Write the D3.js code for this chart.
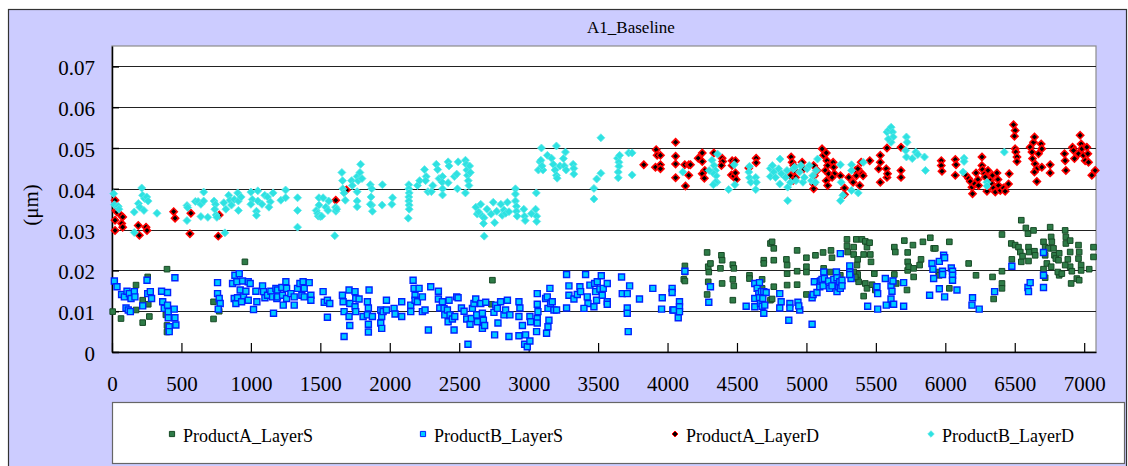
<!DOCTYPE html>
<html>
<head>
<meta charset="utf-8">
<script src="https://cdn.jsdelivr.net/npm/d3@7"></script>
<style>
  body { margin: 0; background: #fff; }
</style>
</head>
<body>
<div id="chart"></div>
<script>
// ---- data: [index, value in µm] ----
var seriesNames = ["ProductA_LayerS", "ProductB_LayerS", "ProductA_LayerD", "ProductB_LayerD"];
var xTicks = [0, 500, 1000, 1500, 2000, 2500, 3000, 3500, 4000, 4500, 5000, 5500, 6000, 6500, 7000];
var yTicks = [0, 0.01, 0.02, 0.03, 0.04, 0.05, 0.06, 0.07];

var productA_LayerS = [[5,0.0099],[65,0.0082],[173,0.0164],[173,0.0103],[221,0.0127],[221,0.0072],[257,0.0184],[261,0.0117],[269,0.0087],[396,0.0203],[388,0.0091],[396,0.0065],[396,0.0049],[731,0.0123],[731,0.0081],[772,0.0100],[957,0.0221],[2739,0.0176],[2732,0.0117],
[4125,0.0211],[4125,0.0196],[4117,0.0178],[4125,0.0174],[4285,0.0244],[4293,0.0209],[4297,0.0196],[4309,0.0217],[4293,0.0172],[4285,0.0141],[4388,0.0237],[4393,0.0225],[4381,0.0205],[4393,0.0168],[4470,0.0214],[4477,0.0205],[4470,0.0178],[4477,0.0162],[4470,0.0127],[4590,0.0188],[4590,0.0180],[4693,0.0225],[4693,0.0217],[4681,0.0178],[4681,0.0156],[4741,0.0266],[4741,0.0127],
[4753,0.0270],[4765,0.0254],[4765,0.0225],[4765,0.0160],[4753,0.0130],[4856,0.0227],[4861,0.0213],[4861,0.0192],[4861,0.0164],[4933,0.0249],[4933,0.0198],[4933,0.0165],[5000,0.0231],[5000,0.0209],[5000,0.0196],[5000,0.0141],[5065,0.0237],[5120,0.0244],[5177,0.0249],[5184,0.0231],[5124,0.0205],[5172,0.0196],[5184,0.0172],[5220,0.0168],[5244,0.0188],[5292,0.0276],[5292,0.0260],[5297,0.0245],[5340,0.0257],[5340,0.0239],[5359,0.0276],[5369,0.0227],[5364,0.0213],[5369,0.0180],[5376,0.0172],[5400,0.0276],[5412,0.0239],[5424,0.0271],[5436,0.0257],[5455,0.0268],[5460,0.0239],[5465,0.0221],[5424,0.0168],[5436,0.0156],[5412,0.0137],[5369,0.0190],[5472,0.0165],[5489,0.0192],[5496,0.0152],[5340,0.0196],[5352,0.0184],[5633,0.0257],[5640,0.0245],[5633,0.0190],[5647,0.0168],[5705,0.0273],[5729,0.0244],[5729,0.0221],[5729,0.0200],[5736,0.0209],[5724,0.0152],[5767,0.0262],[5772,0.0184],[5772,0.0205],[5825,0.0227],[5839,0.0270],[5892,0.0280],[5916,0.0254],[5815,0.0213],
[5928,0.0254],[5952,0.0196],[5957,0.0188],[6029,0.0270],[6029,0.0156],[6168,0.0217],[6221,0.0188],[6340,0.0184],[6348,0.0130],[6408,0.0288],[6408,0.0198],[6408,0.0168],[6408,0.0156],[6475,0.0266],[6479,0.0227],[6503,0.0262],[6527,0.0257],[6540,0.0245],[6547,0.0221],[6556,0.0235],[6547,0.0323],[6580,0.0304],[6595,0.0290],[6599,0.0257],[6604,0.0245],[6599,0.0223],[6642,0.0247],[6635,0.0298],[6647,0.0237],[6707,0.0270],[6719,0.0257],[6719,0.0237],[6707,0.0203],[6719,0.0182],[6731,0.0217],[6743,0.0254],[6755,0.0306],[6762,0.0282],[6767,0.0270],[6779,0.0254],[6786,0.0237],[6796,0.0229],[6820,0.0242],[6820,0.0188],[6815,0.0225],[6762,0.0209],[6810,0.0196],[6863,0.0298],[6868,0.0282],[6868,0.0266],[6899,0.0273],[6899,0.0245],[6882,0.0227],[6899,0.0209],[6911,0.0198],[6863,0.0213],[6839,0.0192],[6947,0.0180],[6964,0.0176],[6959,0.0262],[6964,0.0245],[6959,0.0229],[6978,0.0213],[6978,0.0200],[6906,0.0168],[7036,0.0203],[7067,0.0257],[7067,0.0233]];

var productB_LayerS = [[17,0.0174],[36,0.0160],[69,0.0141],[89,0.0135],[108,0.0149],[125,0.0143],[137,0.0131],[161,0.0148],[165,0.0135],[101,0.0108],[117,0.0103],[132,0.0099],[221,0.0113],[252,0.0176],[257,0.0143],[276,0.0148],[285,0.0131],[357,0.0149],[400,0.0146],[365,0.0123],[376,0.0107],[400,0.0115],[405,0.0099],[412,0.0062],[412,0.0050],[405,0.0084],[448,0.0105],[453,0.0084],[460,0.0066],[453,0.0182],[760,0.0170],[760,0.0143],[772,0.0131],[779,0.0119],[765,0.0105],[868,0.0168],[885,0.0188],[916,0.0192],[899,0.0172],[923,0.0152],[940,0.0174],[947,0.0135],[964,0.0149],[981,0.0172],[995,0.0168],[981,0.0127],[880,0.0131],[892,0.0119],[904,0.0133],[933,0.0123],[1019,0.0104],[1036,0.0149],[1043,0.0123],[1084,0.0162],[1091,0.0148],[1101,0.0133],[1120,0.0139],[1144,0.0149],[1156,0.0135],[1163,0.0095],[1180,0.0156],[1187,0.0131],
[1192,0.0152],[1192,0.0135],[1223,0.0158],[1228,0.0139],[1233,0.0115],[1252,0.0172],[1257,0.0156],[1257,0.0131],[1288,0.0143],[1312,0.0135],[1312,0.0115],[1336,0.0156],[1353,0.0168],[1367,0.0139],[1376,0.0172],[1384,0.0156],[1384,0.0135],[1420,0.0170],[1432,0.0139],[1432,0.0127],[1520,0.0148],[1528,0.0122],[1551,0.0127],[1568,0.0119],[1551,0.0085],[1659,0.0139],[1664,0.0123],[1671,0.0099],[1671,0.0038],[1707,0.0152],[1712,0.0119],[1707,0.0087],[1712,0.0065],[1750,0.0148],[1755,0.0131],[1750,0.0111],[1755,0.0099],[1779,0.0130],[1808,0.0087],[1839,0.0123],[1846,0.0108],[1839,0.0091],[1846,0.0068],[1846,0.0049],[1851,0.0152],[1875,0.0087],[1935,0.0103],[1942,0.0087],[1935,0.0071],[1942,0.0058],[1952,0.0099],[1976,0.0127],[1976,0.0103],[2031,0.0107],[2038,0.0093],[2086,0.0123],[2086,0.0087],[2151,0.0115],[2151,0.0099],[2168,0.0176],[2175,0.0156],[2182,0.0139],[2182,0.0127],[2199,0.0123],[2211,0.0156],[2235,0.0135],[2235,0.0099],[2254,0.0103],[2278,0.0054],[2295,0.0160],[2350,0.0149],[2350,0.0130],[2360,0.0108],
[2379,0.0123],[2391,0.0107],[2396,0.0091],[2415,0.0103],[2420,0.0074],[2427,0.0127],[2434,0.0091],[2451,0.0081],[2463,0.0054],[2468,0.0087],[2482,0.0135],[2492,0.0133],[2516,0.0108],[2535,0.0100],[2554,0.0081],[2563,0.0019],[2578,0.0068],[2587,0.0082],[2595,0.0107],[2606,0.0119],[2619,0.0130],[2626,0.0091],[2631,0.0074],[2655,0.0119],[2667,0.0095],[2667,0.0058],[2674,0.0078],[2683,0.0065],[2691,0.0122],[2750,0.0097],[2755,0.0042],[2763,0.0115],[2775,0.0107],[2779,0.0071],[2798,0.0123],[2822,0.0091],[2834,0.0103],[2847,0.0127],[2858,0.0038],[2865,0.0091],[2930,0.0123],[2937,0.0108],[2930,0.0087],[2930,0.0040],[2955,0.0065],[2971,0.0019],[2978,0.0042],[2990,0.0013],[3009,0.0087],[3009,0.0027],[3014,0.0074],[3062,0.0143],[3062,0.0117],[3067,0.0099],[3062,0.0082],[3057,0.0050],[3062,0.0071],[3122,0.0131],[3134,0.0135],[3139,0.0107],[3146,0.0078],[3153,0.0156],[3158,0.0119],[3170,0.0123],[3182,0.0103],[3129,0.0046],[3139,0.0062],[3201,0.0103],[3273,0.0190],[3290,0.0162],[3290,0.0139],[3273,0.0108],[3326,0.0130],[3350,0.0141],[3369,0.0160],[3374,0.0148],[3410,0.0190],[3422,0.0135],[3427,0.0119],[3441,0.0164],[3475,0.0168],[3482,0.0148],[3489,0.0127],[3494,0.0172],[3513,0.0154],[3523,0.0187],[3530,0.0139],[3537,0.0156],[3398,0.0107],[3470,0.0111],
[3566,0.0168],[3566,0.0123],[3566,0.0117],[3669,0.0184],[3674,0.0143],[3710,0.0143],[3727,0.0162],[3710,0.0108],[3710,0.0095],[3717,0.0050],[3798,0.0130],[3894,0.0156],[3962,0.0133],[3957,0.0105],[4033,0.0156],[4033,0.0146],[4038,0.0103],[4045,0.0103],[4077,0.0084],[4086,0.0123],[4086,0.0111],[4086,0.0099],[4125,0.0198],[4309,0.0160],[4297,0.0122],[4566,0.0112],[4628,0.0168],[4662,0.0170],[4645,0.0156],[4657,0.0143],[4676,0.0148],[4693,0.0148],[4710,0.0146],[4628,0.0131],[4628,0.0111],[4662,0.0133],[4669,0.0119],[4681,0.0112],[4700,0.0115],[4693,0.0095],[4686,0.0131],
[4808,0.0143],[4818,0.0123],[4808,0.0108],[4873,0.0078],[4881,0.0119],[4881,0.0108],[4939,0.0122],[4952,0.0103],[4945,0.0113],[5041,0.0133],[5048,0.0141],[5041,0.0068],[5057,0.0172],[5076,0.0146],[5096,0.0160],[5101,0.0174],[5112,0.0178],[5125,0.0196],[5129,0.0180],[5120,0.0162],[5160,0.0174],[5168,0.0156],[5184,0.0162],[5197,0.0178],[5216,0.0196],[5220,0.0182],[5220,0.0148],[5232,0.0160],[5240,0.0172],[5244,0.0156],[5256,0.0176],[5256,0.0162],[5244,0.0241],[5312,0.0211],[5312,0.0196],[5321,0.0180],[5312,0.0190],[5441,0.0112],[5508,0.0160],[5513,0.0143],[5513,0.0105],[5568,0.0180],[5575,0.0115],[5609,0.0162],[5616,0.0149],[5623,0.0174],[5609,0.0130],[5628,0.0117],[5700,0.0170],[5700,0.0112],[5904,0.0217],[5911,0.0203],[5916,0.0180],[5887,0.0139],
[5957,0.0222],[5988,0.0237],[5995,0.0231],[5980,0.0198],[5980,0.0190],[6043,0.0206],[6052,0.0198],[6052,0.0188],[6052,0.0176],[5957,0.0155],[5995,0.0135],[6084,0.0152],[6196,0.0133],[6192,0.0115],[6244,0.0105],[6355,0.0148],[6479,0.0210],[6595,0.0158],[6599,0.0148],[6611,0.0170],[6707,0.0244],[6707,0.0188],[6707,0.0158]];

var productA_LayerD = [[22,0.0372],[29,0.0347],[36,0.0343],[22,0.0323],[22,0.0298],[65,0.0335],[77,0.0331],[70,0.0315],[77,0.0306],[189,0.0310],[197,0.0286],[245,0.0306],[252,0.0298],[444,0.0344],[454,0.0328],[568,0.0340],[561,0.0290],[765,0.0284],[772,0.0336],[1611,0.0372],[1688,0.0397],
[3829,0.0459],[3918,0.0496],[3925,0.0482],[3949,0.0482],[3913,0.0453],[3949,0.0459],[3949,0.0449],[4058,0.0514],[4058,0.0480],[4058,0.0461],[4058,0.0427],[4124,0.0459],[4129,0.0407],[4153,0.0459],[4165,0.0459],[4153,0.0433],[4221,0.0475],[4250,0.0488],[4250,0.0467],[4268,0.0445],[4250,0.0437],[4265,0.0426],[4333,0.0488],[4393,0.0475],[4397,0.0467],[4388,0.0457],[4465,0.0469],[4489,0.0469],[4465,0.0457],[4460,0.0434],[4477,0.0431],[4494,0.0423],[4489,0.0439],[4638,0.0475],[4638,0.0464],[4585,0.0451],
[4890,0.0478],[4897,0.0465],[4909,0.0457],[4914,0.0445],[4885,0.0432],[4921,0.0428],[4904,0.0420],[4969,0.0465],[4980,0.0449],[5052,0.0457],[5057,0.0432],[5052,0.0412],[5052,0.0400],[5077,0.0445],[5113,0.0498],[5124,0.0482],[5143,0.0488],[5148,0.0469],[5153,0.0457],[5136,0.0445],[5160,0.0437],[5143,0.0420],[5153,0.0408],[5192,0.0465],[5196,0.0453],[5201,0.0437],[5185,0.0428],[5245,0.0432],[5274,0.0402],[5274,0.0386],[5305,0.0428],[5336,0.0416],[5353,0.0445],[5360,0.0432],[5370,0.0449],[5384,0.0408],[5394,0.0465],[5401,0.0437],[5408,0.0432],[5456,0.0469],[5520,0.0449],[5532,0.0482],[5532,0.0465],[5532,0.0416],[5575,0.0449],[5580,0.0428],[5584,0.0437],[5580,0.0500],[5681,0.0502],[5681,0.0445],[5681,0.0428],
[5971,0.0469],[5971,0.0457],[5976,0.0443],[6072,0.0472],[6077,0.0459],[6072,0.0433],[6149,0.0433],[6168,0.0425],[6180,0.0418],[6192,0.0404],[6196,0.0388],[6211,0.0412],[6221,0.0439],[6235,0.0423],[6239,0.0408],[6264,0.0478],[6264,0.0457],[6268,0.0447],[6283,0.0437],[6288,0.0429],[6307,0.0445],[6300,0.0394],[6324,0.0420],[6336,0.0412],[6340,0.0433],[6347,0.0402],[6360,0.0392],[6372,0.0439],[6379,0.0423],[6383,0.0408],[6396,0.0396],[6419,0.0402],[6431,0.0394],[6455,0.0412],[6460,0.0437],[6491,0.0557],[6503,0.0543],[6498,0.0529],[6503,0.0498],[6508,0.0490],[6516,0.0478],[6516,0.0467],[6611,0.0502],[6624,0.0490],[6628,0.0474],[6635,0.0514],[6642,0.0527],[6647,0.0461],[6659,0.0449],[6642,0.0441],[6659,0.0418],[6671,0.0486],[6690,0.0510],[6695,0.0498],[6695,0.0453],[6755,0.0459],[6755,0.0439],[6858,0.0486],[6863,0.0469],[6868,0.0445],[6916,0.0502],[6923,0.0494],[6930,0.0474],[6959,0.0486],[6971,0.0531],[6978,0.0510],[6983,0.0498],[6995,0.0482],[7007,0.0469],[7019,0.0502],[7026,0.0486],[7031,0.0465],[7055,0.0433],[7079,0.0445]];

var productB_LayerD = [[12,0.0388],[17,0.0361],[45,0.0357],[50,0.0350],[160,0.0343],[190,0.0364],[200,0.0355],[220,0.0384],[235,0.0376],[250,0.0380],[260,0.0370],[214,0.0402],[230,0.0347],[160,0.0293],[324,0.0340],[540,0.0359],[545,0.0354],[540,0.0322],[600,0.0369],[620,0.0369],[640,0.0362],[660,0.0392],[660,0.0370],[640,0.0332],[690,0.0330],[735,0.0370],[745,0.0362],[750,0.0336],[755,0.0330],[740,0.0350],[805,0.0366],[813,0.0292],[820,0.0350],[840,0.0384],[850,0.0372],[860,0.0360],[880,0.0374],[905,0.0390],[910,0.0370],[910,0.0347],[930,0.0380],[1000,0.0392],[1010,0.0374],[1000,0.0362],[1050,0.0395],[1050,0.0370],[1080,0.0362],[1100,0.0384],[1120,0.0380],[1140,0.0368],[1160,0.0390],[1040,0.0345],[1040,0.0335],[1130,0.0355],
[1216,0.0372],[1250,0.0397],[1250,0.0378],[1336,0.0378],[1336,0.0347],[1336,0.0306],[1470,0.0347],[1480,0.0340],[1490,0.0378],[1490,0.0360],[1485,0.0333],[1500,0.0332],[1520,0.0378],[1540,0.0355],[1555,0.0347],[1510,0.0333],[1560,0.0370],[1604,0.0285],[1610,0.0355],[1612,0.0345],[1618,0.0350],[1655,0.0440],[1660,0.0420],[1662,0.0400],[1670,0.0390],[1680,0.0372],[1725,0.0420],[1730,0.0408],[1765,0.0430],[1772,0.0420],[1785,0.0440],[1790,0.0460],[1800,0.0425],[1765,0.0393],[1765,0.0370],[1765,0.0356],[1860,0.0410],[1870,0.0400],[1865,0.0380],[1870,0.0360],[1875,0.0345],[1860,0.0362],[1947,0.0410],[1945,0.0360],[2015,0.0362],[2020,0.0378],[2137,0.0410],[2137,0.0400],[2140,0.0390],[2137,0.0380],[2137,0.0370],[2140,0.0360],[2140,0.0350],[2133,0.0328],[2200,0.0408],[2215,0.0420],[2250,0.0447],[2262,0.0430],[2258,0.0420],[2275,0.0393],[2300,0.0393],[2310,0.0408],[2335,0.0460],[2345,0.0447],[2355,0.0425],
[2380,0.0430],[2378,0.0416],[2380,0.0400],[2380,0.0385],[2420,0.0466],[2427,0.0456],[2465,0.0430],[2482,0.0436],[2487,0.0400],[2492,0.0466],[2420,0.0415],[2545,0.0470],[2550,0.0460],[2555,0.0446],[2560,0.0433],[2565,0.0420],[2570,0.0408],[2575,0.0456],[2580,0.0440],[2545,0.0390],[2620,0.0355],[2630,0.0338],[2640,0.0343],[2655,0.0362],[2667,0.0333],[2678,0.0329],[2675,0.0315],[2680,0.0284],[2700,0.0350],[2730,0.0338],[2745,0.0367],[2755,0.0317],[2770,0.0345],[2800,0.0362],[2810,0.0335],[2822,0.0348],[2835,0.0340],[2847,0.0367],[2858,0.0344],[2905,0.0400],[2905,0.0387],[2905,0.0370],[2912,0.0357],[2912,0.0345],[2917,0.0333],[2965,0.0350],[2970,0.0333],[2975,0.0322],[3020,0.0339],[3050,0.0350],[3058,0.0333],[3058,0.0320],[3055,0.0390],[3070,0.0446],[3082,0.0466],[3088,0.0470],[3092,0.0500],[3103,0.0446],[3097,0.0456],[3135,0.0482],[3165,0.0475],[3177,0.0460],[3190,0.0446],[3200,0.0433],[3205,0.0426],[3200,0.0505],[3225,0.0456],[3250,0.0474],[3257,0.0456],[3265,0.0490],[3270,0.0446],[3320,0.0460],[3325,0.0450],[3325,0.0436],[3470,0.0401],[3470,0.0375],[3490,0.0424],[3520,0.0438],[3520,0.0525],
[3640,0.0475],[3650,0.0465],[3650,0.0455],[3645,0.0441],[3645,0.0427],[3655,0.0482],[3720,0.0488],[3745,0.0488],[3745,0.0434],[4110,0.0441],[4320,0.0470],[4335,0.0457],[4345,0.0445],[4350,0.0432],[4355,0.0416],[4360,0.0485],[4325,0.0440],[4300,0.0445],[4345,0.0416],[4330,0.0410],[4440,0.0398],[4480,0.0459],[4485,0.0410],[4590,0.0455],[4585,0.0441],[4590,0.0427],[4600,0.0416],[4635,0.0428],[4640,0.0416],[4635,0.0398],[4740,0.0450],[4740,0.0430],
[4755,0.0457],[4765,0.0441],[4778,0.0428],[4800,0.0449],[4808,0.0412],[4810,0.0473],[4820,0.0437],[4850,0.0428],[4860,0.0445],[4865,0.0404],[4865,0.0371],[4885,0.0416],[4905,0.0449],[4915,0.0453],[4925,0.0420],[4950,0.0441],[4960,0.0457],[4975,0.0416],[4985,0.0428],[5005,0.0449],[5020,0.0457],[5035,0.0420],[5045,0.0432],[5070,0.0445],[5080,0.0473],[5065,0.0416],[5245,0.0459],[5250,0.0416],[5262,0.0384],[5245,0.0371],[5325,0.0459],[5325,0.0445],[5325,0.0396],[5373,0.0390],[5410,0.0465],[5580,0.0539],[5595,0.0545],[5610,0.0551],[5620,0.0539],[5625,0.0527],[5610,0.0514],[5590,0.0522],[5720,0.0527],[5725,0.0514],[5715,0.0494],[5720,0.0478],[5762,0.0474],[5787,0.0490],[5802,0.0484],[5850,0.0478],[5857,0.0445],
[6135,0.0475],[6135,0.0467],[6128,0.0441],[6300,0.0416],[6300,0.0407],[6425,0.0490]];

var seriesData = [productA_LayerS, productB_LayerS, productA_LayerD, productB_LayerD];

// ---- drawing ----
const w = 1128, h = 466;
const plotL = 112, plotR = 1096, plotT = 46, plotB = 352;
const serif = "'Liberation Serif', 'Times New Roman', Tinos, 'DejaVu Serif', 'Noto Serif', serif";

const svg = d3.select("#chart").append("svg")
  .attr("width", w).attr("height", h)
  .style("font-family", serif);

// outer lavender frame
svg.append("rect")
  .attr("x", 8.5).attr("y", 9.5)
  .attr("width", 1118).attr("height", 480)
  .attr("fill", "#CCCCFF").attr("stroke", "#333").attr("stroke-width", 1.2);

const xScale = d3.scaleLinear().domain([0, 7085]).range([plotL, plotR]);
const yScale = d3.scaleLinear().domain([0, 0.075]).range([plotB, plotT]);

// plot area
svg.append("rect")
  .attr("x", plotL).attr("y", plotT)
  .attr("width", plotR - plotL).attr("height", plotB - plotT)
  .attr("fill", "#fff").attr("stroke", "#8c8c8c").attr("stroke-width", 1.2);

// gridlines
svg.append("g").selectAll("line")
  .data(yTicks.filter(d => d > 0))
  .enter().append("line")
  .attr("x1", plotL).attr("x2", plotR)
  .attr("y1", d => Math.round(yScale(d)) + 0.5)
  .attr("y2", d => Math.round(yScale(d)) + 0.5)
  .attr("stroke", "#222").attr("stroke-width", 1);

// axes
const xAxis = d3.axisBottom(xScale).tickValues(xTicks).tickSizeInner(-9).tickSizeOuter(0).tickPadding(24)
  .tickFormat(d3.format("d"));
const gx = svg.append("g")
  .attr("transform", "translate(0," + plotB + ")")
  .call(xAxis)
  .attr("font-family", null);
gx.select(".domain").attr("stroke", "#000").attr("stroke-width", 1.5);
gx.selectAll(".tick line").attr("stroke", "#000").attr("stroke-width", 1.2);
gx.selectAll("text").style("font-family", serif).attr("font-size", 21).attr("fill", "#000");

const yAxis = d3.axisLeft(yScale).tickValues(yTicks).tickSizeInner(-7).tickSizeOuter(0).tickPadding(24)
  .tickFormat(d => d === 0 ? "0" : d3.format(".2f")(d));
const gy = svg.append("g")
  .attr("transform", "translate(" + plotL + ",0)")
  .call(yAxis)
  .attr("font-family", null);
gy.select(".domain").attr("stroke", "#000").attr("stroke-width", 1.5);
gy.selectAll(".tick line").attr("stroke", "#000").attr("stroke-width", 1.5);
gy.selectAll("text").style("font-family", serif).attr("font-size", 21).attr("fill", "#000")
  .attr("x", -17).attr("dy", "0.4em");

// title and axis label
svg.append("text")
  .attr("x", 631).attr("y", 33)
  .attr("text-anchor", "middle")
  .style("font-family", serif)
  .attr("font-size", 17)
  .text("A1_Baseline");

svg.append("text")
  .attr("transform", "translate(38,205) rotate(-90)")
  .attr("text-anchor", "middle")
  .style("font-family", serif)
  .attr("font-size", 21)
  .text("(μm)");

// markers
function diamond(r) {
  return "M0," + (-r) + "L" + r + ",0L0," + r + "L" + (-r) + ",0Z";
}
function square(s) {
  return "M" + (-s) + "," + (-s) + "H" + s + "V" + s + "H" + (-s) + "Z";
}
var styles = [
  { path: square(2.8), fill: "#2E7B47", stroke: "#174A26", sw: 1, lpath: square(2.6) },
  { path: square(3), fill: "#00CCFF", stroke: "#0022FF", sw: 1.4, lpath: square(2.6) },
  { path: diamond(3.6), fill: "#000", stroke: "#FF0000", sw: 1.6, lpath: diamond(3) },
  { path: diamond(4), fill: "#2EE2E2", stroke: "#5EE8E8", sw: 0.8, lpath: diamond(3.2) }
];

seriesData.forEach(function (data, i) {
  var st = styles[i];
  svg.append("g").selectAll("path")
    .data(data)
    .enter().append("path")
    .attr("d", st.path)
    .attr("transform", d => "translate(" + xScale(d[0]) + "," + yScale(d[1]) + ")")
    .attr("fill", st.fill)
    .attr("stroke", st.stroke)
    .attr("stroke-width", st.sw);
});

// legend
svg.append("rect")
  .attr("x", 112.5).attr("y", 402.5)
  .attr("width", 1012).attr("height", 61)
  .attr("fill", "#fff").attr("stroke", "#666").attr("stroke-width", 1.2);

var legendX = [172, 423, 675, 931];
var legend = svg.append("g").selectAll("g")
  .data(seriesNames)
  .enter().append("g")
  .attr("transform", (d, i) => "translate(" + legendX[i] + ",434)");
legend.append("path")
  .attr("d", (d, i) => styles[i].lpath)
  .attr("fill", (d, i) => styles[i].fill)
  .attr("stroke", (d, i) => styles[i].stroke)
  .attr("stroke-width", 1);
legend.append("text")
  .attr("x", 11).attr("y", 8)
  .style("font-family", serif)
  .attr("font-size", 18)
  .text(d => d);
</script>
</body>
</html>
